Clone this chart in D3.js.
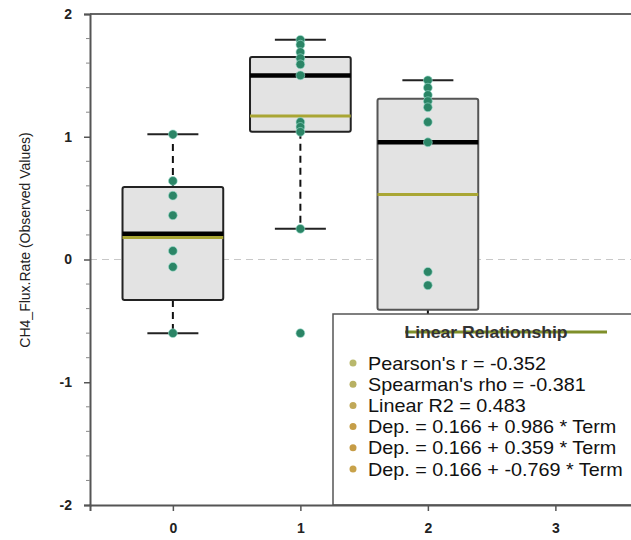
<meta charset="utf-8">
<svg id="svg" width="631" height="540"></svg>
<script src="https://d3js.org/d3.v7.min.js"></script>
<script>
    // box summary per term
    var categories = [0, 1, 2];
    var q1 = [-0.33, 1.04, -0.41];
    var q3 = [0.59, 1.65, 1.31];
    var medians = [0.21, 1.50, 0.955];
    var means = [0.18, 1.17, 0.53];
    var whiskerLow = [-0.60, 0.25, -1.20];
    var whiskerHigh = [1.02, 1.79, 1.46];

    // observed values
    var points0 = [1.02, 0.64, 0.52, 0.36, 0.07, -0.06, -0.60];
    var points1 = [1.79, 1.75, 1.69, 1.64, 1.59, 1.50, 1.12, 1.08, 1.04, 0.25, -0.60];
    var points2 = [1.46, 1.40, 1.34, 1.29, 1.24, 1.12, 0.955, -0.10, -0.21];

    var yTicks = [-2, -1, 0, 1, 2];
    var xTicks = [0, 1, 2, 3];

    var legendTitle = "Linear Relationship";
    var legendLabels = [
        "Pearson's r = -0.352",
        "Spearman's rho = -0.381",
        "Linear R2 = 0.483",
        "Dep. = 0.166 + 0.986 * Term",
        "Dep. = 0.166 + 0.359 * Term",
        "Dep. = 0.166 + -0.769 * Term"
    ];
    var legendColors = ["#b9b86c", "#b8b062", "#c0a858", "#c59e48", "#c69c46", "#c8a24a"];

    var svg = d3.select("#svg");
    var plotLeft = 90, plotTop = 14, plotBottom = 505;

    var x = d3.scaleLinear().domain([-0.65, 3.7]).range([plotLeft, plotLeft + 4.35 * 127.5]);
    var y = d3.scaleLinear().domain([-2, 2]).range([plotBottom, plotTop]);

    var font = "Liberation Sans, Arial, sans-serif";
    var boxW = 0.79, capW = 0.4;

    // zero reference line
    svg.append("line")
        .attr("x1", plotLeft).attr("x2", 631)
        .attr("y1", y(0)).attr("y2", y(0))
        .attr("stroke", "#c8c8c8").attr("stroke-width", 1.2)
        .attr("stroke-dasharray", "7,5");

    var groups = categories.map(function (c, i) {
        return { c: c, q1: q1[i], q3: q3[i], med: medians[i], mean: means[i], lo: whiskerLow[i], hi: whiskerHigh[i] };
    });
    var allPoints = [points0, points1, points2];

    groups.forEach(function (g, i) {
        var cx = x(g.c);
        var halfBox = (x(boxW / 2) - x(0));
        var halfCap = (x(capW / 2) - x(0));

        // whiskers
        svg.append("line").attr("x1", cx).attr("x2", cx)
            .attr("y1", y(g.q3)).attr("y2", y(g.hi))
            .attr("stroke", "#111").attr("stroke-width", 2).attr("stroke-dasharray", "7,5");
        svg.append("line").attr("x1", cx).attr("x2", cx)
            .attr("y1", y(g.q1)).attr("y2", y(g.lo))
            .attr("stroke", "#111").attr("stroke-width", 2).attr("stroke-dasharray", "7,5");
        [g.hi, g.lo].forEach(function (v) {
            svg.append("line").attr("x1", cx - halfCap).attr("x2", cx + halfCap)
                .attr("y1", y(v)).attr("y2", y(v))
                .attr("stroke", "#222").attr("stroke-width", 2);
        });

        // box
        svg.append("rect")
            .attr("x", cx - halfBox).attr("y", y(g.q3))
            .attr("width", 2 * halfBox).attr("height", y(g.q1) - y(g.q3))
            .attr("rx", 2)
            .attr("fill", "#e3e3e3").attr("stroke", i == 2 ? "#555" : "#222").attr("stroke-width", 2);

        // mean and median
        svg.append("line").attr("x1", cx - halfBox).attr("x2", cx + halfBox)
            .attr("y1", y(g.mean)).attr("y2", y(g.mean))
            .attr("stroke", "#a9a634").attr("stroke-width", 3);
        svg.append("line").attr("x1", cx - halfBox).attr("x2", cx + halfBox)
            .attr("y1", y(g.med)).attr("y2", y(g.med))
            .attr("stroke", "#000").attr("stroke-width", 4.5);

        // points
        svg.selectAll(null).data(allPoints[i]).enter().append("circle")
            .attr("cx", cx).attr("cy", function (d) { return y(d); })
            .attr("r", 4.4)
            .attr("fill", "#2b8566").attr("stroke", "#9fe0d0").attr("stroke-width", 1).attr("stroke-opacity", 0.6);
    });

    // frame
    svg.append("line").attr("x1", plotLeft).attr("x2", 631).attr("y1", plotTop).attr("y2", plotTop)
        .attr("stroke", "#666").attr("stroke-width", 2);

    // legend
    var lx = 333, ly = 314;
    svg.append("rect").attr("x", lx).attr("y", ly).attr("width", 320).attr("height", plotBottom - ly)
        .attr("fill", "#fff").attr("stroke", "#555").attr("stroke-width", 1.5);
    svg.append("line").attr("x1", 405).attr("x2", 607).attr("y1", 332).attr("y2", 332)
        .attr("stroke", "#7f8f2a").attr("stroke-width", 3);
    svg.append("text").attr("transform", "translate(486,338) scale(1.1,1)")
        .attr("text-anchor", "middle").attr("font-family", font).attr("font-size", 16)
        .attr("font-weight", "bold").attr("fill", "#333").text(legendTitle);
    legendLabels.forEach(function (t, i) {
        var yy = 363 + i * 21.2;
        svg.append("circle").attr("cx", 353).attr("cy", yy).attr("r", 3.5).attr("fill", legendColors[i]);
        svg.append("text").attr("transform", "translate(368," + (yy + 6.5) + ") scale(1.1,1)")
            .attr("font-family", font).attr("font-size", 18).attr("fill", "#111").text(t);
    });

    // y axis
    var yAxis = d3.axisLeft(y).tickValues(yTicks).tickSize(6).tickPadding(12).tickFormat(function (d) { return String(d); });
    var ya = svg.append("g").attr("transform", "translate(" + plotLeft + ",0)").call(yAxis);
    ya.select(".domain").attr("stroke", "#555").attr("stroke-width", 2);
    ya.selectAll(".tick line").attr("stroke", "#555").attr("stroke-width", 1.5);
    ya.selectAll("text").attr("font-family", font).attr("font-size", 14).attr("font-weight", "bold").attr("fill", "#222");
    var minor = d3.range(-2, 2.001, 0.2).filter(function (v) { return Math.abs(v - Math.round(v)) > 0.01; });
    svg.selectAll(null).data(minor).enter().append("line")
        .attr("x1", plotLeft - 4).attr("x2", plotLeft)
        .attr("y1", function (d) { return y(d); }).attr("y2", function (d) { return y(d); })
        .attr("stroke", "#888").attr("stroke-width", 1);

    // x axis
    var xAxis = d3.axisBottom(x).tickValues(xTicks).tickSize(6).tickPadding(12).tickFormat(function (d) { return String(d); });
    var xa = svg.append("g").attr("transform", "translate(0," + plotBottom + ")").call(xAxis);
    xa.select(".domain").attr("stroke", "#555").attr("stroke-width", 2);
    xa.selectAll(".tick line").attr("stroke", "#555").attr("stroke-width", 1.5);
    xa.selectAll("text").attr("font-family", font).attr("font-size", 14).attr("font-weight", "bold").attr("fill", "#222");

    svg.append("text")
        .attr("transform", "translate(30,240) rotate(-90)")
        .attr("text-anchor", "middle").attr("font-family", font).attr("font-size", 14)
        .attr("fill", "#222").text("CH4_Flux.Rate (Observed Values)");
</script>
<style>
    html,
    body {
        margin: 0;
        padding: 0;
    }
</style>
